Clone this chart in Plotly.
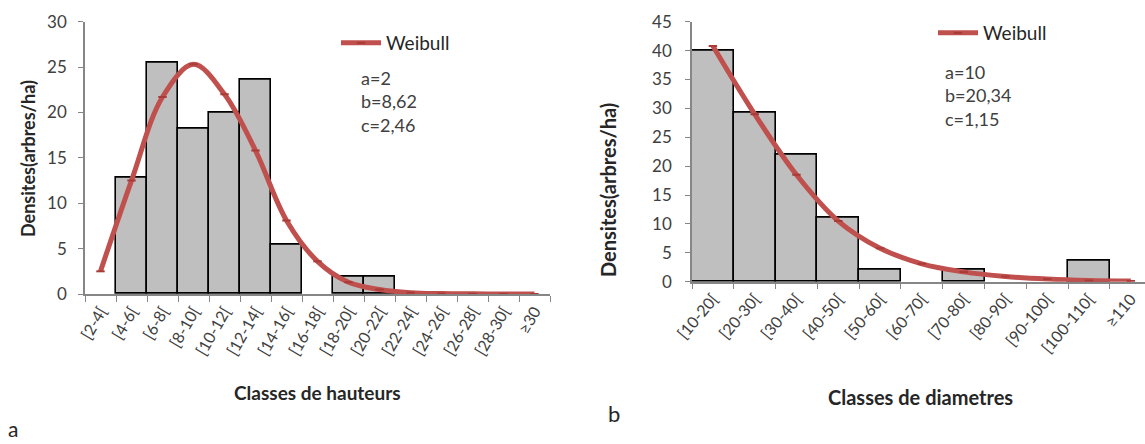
import plotly.graph_objects as go

# ---- Data: panel a (heights) ----
height_classes = ["[2-4[", "[4-6[", "[6-8[", "[8-10[", "[10-12[", "[12-14[", "[14-16[",
                  "[16-18[", "[18-20[", "[20-22[", "[22-24[", "[24-26[", "[26-28[", "[28-30[", "≥30"]
height_density = [0, 12.8, 25.5, 18.2, 20.0, 23.6, 5.4, 0, 1.9, 1.9, 0, 0, 0, 0, 0]
height_weibull = [2.5, 12.5, 21.7, 25.3, 22.0, 15.8, 8.1, 3.6, 1.3, 0.5, 0.15, 0.05, 0.02, 0.01, 0.0]

# ---- Data: panel b (diameters) ----
diam_classes = ["[10-20[", "[20-30[", "[30-40[", "[40-50[", "[50-60[", "[60-70[",
                "[70-80[", "[80-90[", "[90-100[", "[100-110[", "≥110"]
diam_density = [40.0, 29.2, 21.9, 11.1, 2.1, 0, 2.0, 0, 0, 3.7, 0]
diam_weibull = [40.8, 29.0, 18.5, 10.5, 5.8, 3.1, 1.7, 0.9, 0.45, 0.2, 0.1]

W, H = 1145, 444
FONT = "Lato"
BAR_FILL = "#BFBFBF"
RED = "#C0504D"
AXIS = "#868686"
TXT = "#404040"
DARK = "#262626"


def px_x(p):
    return p / W


def px_y(p):
    return (H - p) / H


def nz(vals):
    # empty classes are not drawn as bars
    return [v if v > 0 else None for v in vals]


fig = go.Figure()

bar_style = dict(color=BAR_FILL, line=dict(color="black", width=1.6))
curve_line = dict(color=RED, width=5, shape="spline")
curve_marker = dict(symbol="line-ew", size=6, line=dict(color="#A83A37", width=2))

fig.add_trace(go.Bar(x=height_classes, y=nz(height_density), marker=bar_style,
                     showlegend=False, xaxis="x", yaxis="y"))
fig.add_trace(go.Scatter(x=height_classes, y=height_weibull, mode="lines+markers", name="Weibull",
                         line=curve_line, marker=curve_marker, xaxis="x", yaxis="y", legend="legend"))

fig.add_trace(go.Bar(x=diam_classes, y=nz(diam_density), marker=bar_style,
                     showlegend=False, xaxis="x2", yaxis="y2"))
fig.add_trace(go.Scatter(x=diam_classes, y=diam_weibull, mode="lines+markers", name="Weibull",
                         line=curve_line, marker=curve_marker, xaxis="x2", yaxis="y2", legend="legend2"))

xcommon = dict(type="category", showline=True, linecolor=AXIS, linewidth=1.5, ticks="outside",
               tickson="boundaries", ticklen=6, tickcolor=AXIS, automargin=False,
               showgrid=False, zeroline=False)
ycommon = dict(showline=True, linecolor=AXIS, linewidth=1.5, ticks="outside", ticklen=5, tickcolor=AXIS,
               automargin=False, ticklabelstandoff=8, tickfont=dict(family=FONT, size=17, color=TXT),
               showgrid=False, zeroline=False)

fig.update_layout(
    width=W, height=H,
    margin=dict(l=0, r=0, t=0, b=0, autoexpand=False),
    paper_bgcolor="white", plot_bgcolor="white",
    bargap=0,
    font=dict(family=FONT, color=TXT),
    xaxis=dict(xcommon, domain=[px_x(85), px_x(550)], range=[-0.5, 14.5], anchor="y",
               tickangle=-60, tickfont=dict(family=FONT, size=16, color=TXT)),
    yaxis=dict(ycommon, domain=[px_y(294), px_y(21.7)], range=[0, 30], dtick=5, anchor="x"),
    xaxis2=dict(xcommon, domain=[px_x(692), 1.0], range=[-0.5, 10.34], anchor="y2",
                tickangle=-50, tickfont=dict(family=FONT, size=16, color=TXT)),
    yaxis2=dict(ycommon, domain=[px_y(281.7), px_y(21.7)], range=[0, 45], dtick=5, anchor="x2",
                ticklabelstandoff=10),
    legend=dict(x=px_x(336), y=px_y(43), xanchor="left", yanchor="middle", bgcolor="rgba(0,0,0,0)",
                font=dict(family=FONT, size=19, color=DARK), itemwidth=40),
    legend2=dict(x=px_x(933), y=px_y(33), xanchor="left", yanchor="middle", bgcolor="rgba(0,0,0,0)",
                 font=dict(family=FONT, size=19, color=DARK), itemwidth=40),
)

annots = [
    dict(text="<b>Densites(arbres/ha)</b>", x=px_x(28), y=px_y(159), textangle=-90,
         font=dict(size=18, color=DARK, family=FONT)),
    dict(text="<b>Densites(arbres/ha)</b>", x=px_x(608), y=px_y(190), textangle=-90,
         font=dict(size=20, color=DARK, family=FONT)),
    dict(text="<b>Classes de hauteurs</b>", x=px_x(317), y=px_y(392),
         font=dict(size=19, color=DARK, family=FONT)),
    dict(text="<b>Classes de diametres</b>", x=px_x(920), y=px_y(397),
         font=dict(size=20, color=DARK, family=FONT)),
    dict(text="a=2<br>b=8,62<br>c=2,46", x=px_x(359), y=px_y(101), xanchor="left", align="left",
         font=dict(size=18, color=TXT, family=FONT)),
    dict(text="a=10<br>b=20,34<br>c=1,15", x=px_x(943), y=px_y(95), xanchor="left", align="left",
         font=dict(size=18, color=TXT, family=FONT)),
    dict(text="a", x=px_x(13), y=px_y(428), font=dict(size=21, color=DARK, family=FONT)),
    dict(text="b", x=px_x(614), y=px_y(413), font=dict(size=22, color=DARK, family=FONT)),
]
for a in annots:
    a.setdefault("xanchor", "center")
    a.setdefault("yanchor", "middle")
    fig.add_annotation(xref="paper", yref="paper", showarrow=False, **a)

fig.write_html("out.html")
